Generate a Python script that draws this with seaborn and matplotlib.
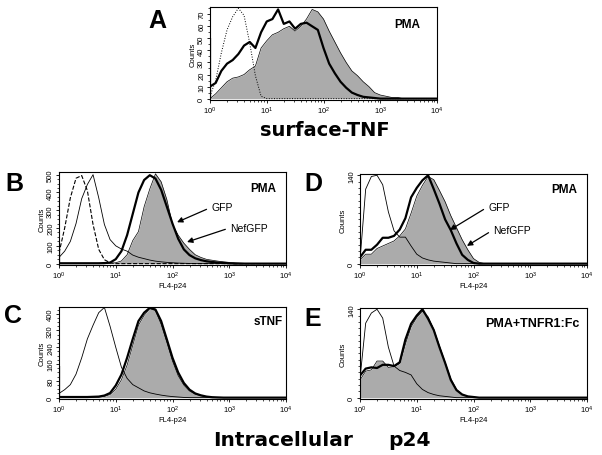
import numpy as np
import matplotlib
matplotlib.use("Agg")
import matplotlib.pyplot as plt
import seaborn as sns
from matplotlib.ticker import LogLocator, MultipleLocator, NullFormatter

# log10 of the fluorescence channel, 0.1 decade apart (10^0 .. 10^4)
log_ch = np.round(np.arange(0, 4.01, 0.1), 1)

# A: surface-TNF, PMA
A_dotted = [2, 15, 38, 57, 68, 75, 69, 46, 19, 2, 0] + [0] * 30
A_thick = [10, 13, 23, 29, 32, 37, 44, 47, 42, 55, 64, 66, 74, 62, 64, 58, 62, 63, 60, 57,
           42, 29, 21, 14, 9, 5, 3, 1.5, 1, 0.5, 0] + [0] * 10
A_grey = [0, 4, 9, 14, 17, 18, 20, 24, 27, 42, 48, 53, 55, 58, 60, 56, 60, 66, 74, 72,
          66, 56, 47, 38, 30, 23, 19, 14, 10, 5, 3, 2, 1, 1, 0] + [0] * 6
A_spike = 50

# B: intracellular p24, PMA
B_dashed = [60, 200, 370, 480, 495, 410, 220, 80, 22, 5, 0] + [0] * 30
B_thin = [35, 70, 125, 225, 365, 445, 500, 370, 220, 135, 100, 82, 70, 48, 36, 28, 20, 14,
          10, 7, 5, 3, 2, 1, 0] + [0] * 16
B_thick = [2, 2, 2, 2, 2, 2, 2, 2, 3, 6, 25, 70, 160, 280, 400, 470, 497, 478, 415, 320,
           225, 140, 80, 48, 30, 20, 13, 9, 6, 4, 2, 0] + [0] * 9
B_grey = [0, 0, 0, 0, 0, 0, 0, 0, 1, 2, 5, 15, 50, 130, 180, 320, 420, 505, 460, 360,
          220, 160, 115, 80, 50, 35, 24, 19, 14, 10, 7, 5, 3, 1, 0] + [0] * 6
B_spike = 110

# C: intracellular p24, sTNF
C_thin = [20, 38, 62, 112, 190, 280, 345, 405, 430, 340, 240, 145, 92, 62, 47, 32, 23, 17,
          12, 8, 5, 3, 1, 0] + [0] * 17
C_thick = [3, 3, 3, 3, 3, 3, 4, 5, 10, 22, 58, 110, 190, 280, 365, 405, 428, 420, 365, 278,
           190, 120, 70, 38, 20, 11, 5, 2, 1, 0] + [0] * 11
C_grey = [2, 2, 2, 2, 2, 2, 2, 2, 6, 15, 40, 85, 155, 250, 345, 392, 425, 415, 350, 265,
          175, 105, 60, 32, 17, 9, 4, 2, 1, 0] + [0] * 11
C_spike = 150

# D: intracellular p24, PMA
D_thin = [5, 118, 138, 140, 125, 82, 52, 42, 42, 28, 15, 9, 6, 4, 3, 2, 1, 0] + [0] * 23
D_thick = [10, 22, 22, 30, 41, 41, 44, 54, 72, 105, 120, 132, 140, 118, 95, 70, 53, 32,
           14, 6, 1, 0] + [0] * 19
D_grey = [6, 15, 15, 24, 28, 32, 36, 44, 55, 80, 107, 124, 138, 133, 116, 98, 76, 57, 38,
          22, 8, 2, 0] + [0] * 18

# E: intracellular p24, PMA+TNFR1:Fc
E_thin = [30, 118, 134, 140, 126, 80, 50, 43, 40, 36, 22, 13, 8, 5, 3, 2, 1, 0] + [0] * 23
E_thick = [35, 46, 48, 47, 52, 52, 50, 56, 92, 117, 130, 140, 125, 107, 80, 55, 28, 12, 5,
           2, 1, 0] + [0] * 19
E_grey = [28, 42, 44, 58, 58, 48, 49, 54, 85, 112, 127, 137, 128, 108, 82, 56, 30, 13, 5,
          2, 1, 0] + [0] * 19

sns.set_theme(style="white")
plt.rcParams['font.family'] = ['Liberation Sans', 'DejaVu Sans']
plt.rcParams.update({'text.color': 'black', 'axes.labelcolor': 'black',
                     'xtick.color': 'black', 'ytick.color': 'black'})

W, H = 602, 456
fig = plt.figure(figsize=(W / 100, H / 100), dpi=100)


def px_axes(left, top, right, bottom):
    return fig.add_axes([left / W, 1 - bottom / H, (right - left) / W, (bottom - top) / H])


def draw_panel(ax, grey, lines, ymax, yticks, yminor, spike=None, xlabel=True):
    x = 10 ** log_ch
    ax.fill_between(x, grey, color='#ababab', lw=0, zorder=1)
    sns.lineplot(x=x, y=grey, ax=ax, color='black', lw=0.5, zorder=2)
    for vals, lw, ls in lines:
        sns.lineplot(x=x, y=vals, ax=ax, color='black', lw=lw, linestyle=ls, zorder=3)
    if spike:
        ax.vlines(1.0, 0, spike, color='black', lw=1.6, zorder=3)
    ax.set_xscale('log')
    ax.set_xlim(1, 1e4)
    ax.set_ylim(-ymax * 0.015, ymax)
    ax.xaxis.set_major_locator(LogLocator(base=10))
    ax.xaxis.set_minor_locator(LogLocator(base=10, subs=np.arange(2, 10)))
    ax.xaxis.set_minor_formatter(NullFormatter())
    ax.set_yticks(yticks)
    ax.yaxis.set_minor_locator(MultipleLocator(yminor))
    ax.tick_params(axis='both', which='major', direction='out', length=2.5, width=0.6,
                   labelsize=5.5, pad=1, bottom=True, left=True)
    ax.tick_params(axis='both', which='minor', direction='out', length=1.5, width=0.5,
                   bottom=True, left=True)
    ax.tick_params(axis='y', labelrotation=90)
    for lab in ax.get_yticklabels():
        lab.set_va('center')
    for sp in ax.spines.values():
        sp.set_visible(True)
        sp.set_color('black')
        sp.set_linewidth(0.8)
    ax.set_ylabel('Counts', fontsize=5.5, labelpad=1)
    ax.set_xlabel('FL4-p24' if xlabel else '', fontsize=5.5, labelpad=0.5)
    ax.grid(False)


def arrow_label(ax, text, head, tail):
    ax.annotate(text, xy=head, xycoords='axes fraction', xytext=tail,
                textcoords='axes fraction', ha='left', va='center', fontsize=7.5,
                arrowprops=dict(arrowstyle='-|>', color='black', lw=0.9, mutation_scale=8,
                                shrinkA=1, shrinkB=0, relpos=(0, 0.5)))


axA = px_axes(210, 8, 437, 101)
draw_panel(axA, A_grey, [(A_dotted, 0.7, ':'), (A_thick, 1.6, '-')], 76,
           [0, 10, 20, 30, 40, 50, 60, 70], 5, spike=A_spike, xlabel=False)
axA.text(0.87, 0.82, 'PMA', transform=axA.transAxes, ha='center', va='center',
         fontsize=8.5, fontweight='bold')

axB = px_axes(59, 173, 286, 266)
draw_panel(axB, B_grey, [(B_dashed, 0.8, '--'), (B_thin, 0.6, '-'), (B_thick, 1.6, '-')],
           515, [0, 100, 200, 300, 400, 500], 25, spike=B_spike)
axB.text(0.9, 0.83, 'PMA', transform=axB.transAxes, ha='center', va='center',
         fontsize=8.5, fontweight='bold')
arrow_label(axB, 'GFP', (0.52, 0.46), (0.67, 0.62))
arrow_label(axB, 'NefGFP', (0.564, 0.247), (0.753, 0.40))

axD = px_axes(360, 175, 587, 266)
draw_panel(axD, D_grey, [(D_thin, 0.6, '-'), (D_thick, 1.6, '-')], 142, [0, 140], 10)
axD.text(0.9, 0.84, 'PMA', transform=axD.transAxes, ha='center', va='center',
         fontsize=8.5, fontweight='bold')
arrow_label(axD, 'GFP', (0.396, 0.385), (0.564, 0.64))
arrow_label(axD, 'NefGFP', (0.471, 0.21), (0.586, 0.385))

axC = px_axes(59, 308, 286, 400)
draw_panel(axC, C_grey, [(C_thin, 0.6, '-'), (C_thick, 1.6, '-')], 432,
           [0, 80, 160, 240, 320, 400], 20, spike=C_spike)
axC.text(0.92, 0.85, 'sTNF', transform=axC.transAxes, ha='center', va='center',
         fontsize=8.5, fontweight='bold')

axE = px_axes(360, 309, 587, 400)
draw_panel(axE, E_grey, [(E_thin, 0.6, '-'), (E_thick, 1.6, '-')], 142, [0, 140], 10)
axE.text(0.76, 0.84, 'PMA+TNFR1:Fc', transform=axE.transAxes, ha='center', va='center',
         fontsize=9, fontweight='bold')

# panel letters and big axis titles
for letter, (px, py) in {'A': (157, 21), 'B': (14, 184), 'D': (313, 184),
                         'C': (13, 316), 'E': (313, 319)}.items():
    fig.text(px / W, 1 - py / H, letter, ha='center', va='center', fontsize=18,
             fontweight='bold')

fig.text(325 / W, 1 - 130 / H, 'surface-TNF', ha='center', va='center', fontsize=14,
         fontweight='bold', family='DejaVu Sans')
fig.text(213 / W, 1 - 441 / H, 'Intracellular', ha='left', va='center', fontsize=14.5,
         fontweight='bold', family='DejaVu Sans')
fig.text(388 / W, 1 - 441 / H, 'p24', ha='left', va='center', fontsize=14.5,
         fontweight='bold', family='DejaVu Sans')

fig.savefig('out.png', dpi=100)
